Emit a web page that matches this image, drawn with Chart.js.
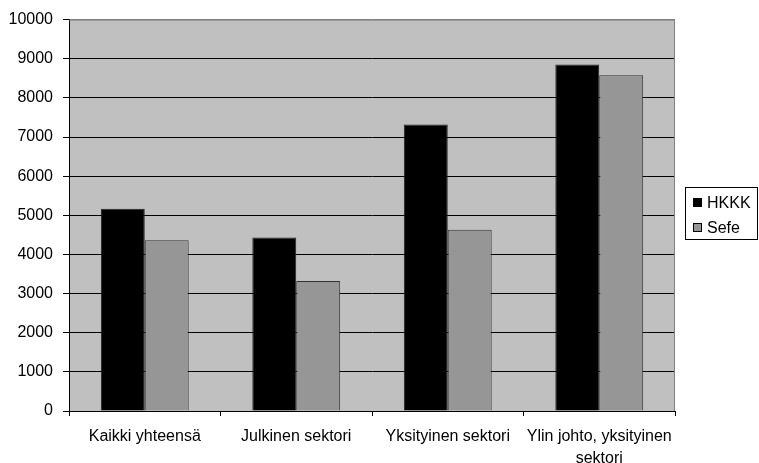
<!DOCTYPE html>
<html>
<head>
<meta charset="utf-8">
<script src="https://cdn.jsdelivr.net/npm/chart.js@4/dist/chart.umd.min.js"></script>
<style>
  html, body { margin: 0; padding: 0; background: #ffffff; }
  #wrap { width: 759px; height: 463px; }
</style>
</head>
<body>
<div id="wrap"><canvas id="c" width="759" height="463"></canvas></div>
<script>
const categories = ['Kaikki yhteensä', 'Julkinen sektori', 'Yksityinen sektori', ['Ylin johto, yksityinen', 'sektori']];
const seriesNames = ['HKKK', 'Sefe'];
const hkkkValues = [5170, 4430, 7320, 8850];
const sefeValues = [4360, 3320, 4630, 8580];
const yTicks = [0, 1000, 2000, 3000, 4000, 5000, 6000, 7000, 8000, 9000, 10000];
const seriesColors = ['#000000', '#969696'];

const FONT = { family: "'Liberation Sans', Arial, sans-serif", size: 16 };

const plotBg = {
  id: 'plotBg',
  beforeDraw(chart) {
    const a = chart.chartArea, ctx = chart.ctx;
    ctx.save();
    ctx.fillStyle = '#c0c0c0';
    ctx.fillRect(a.left, a.top, a.right - a.left, a.bottom - a.top);
    ctx.restore();
  },
  afterDatasetsDraw(chart) {
    const a = chart.chartArea, ctx = chart.ctx;
    ctx.save();
    ctx.strokeStyle = '#808080';
    ctx.lineWidth = 1;
    ctx.beginPath();
    ctx.moveTo(a.left, a.top + 0.5);
    ctx.lineTo(a.right - 0.5, a.top + 0.5);
    ctx.lineTo(a.right - 0.5, a.bottom);
    ctx.stroke();
    ctx.restore();
  }
};

const boxLegend = {
  id: 'boxLegend',
  afterDraw(chart) {
    const ctx = chart.ctx;
    ctx.save();
    ctx.strokeStyle = '#000';
    ctx.lineWidth = 1;
    ctx.strokeRect(685.5, 187.5, 72, 52);
    ctx.font = FONT.size + 'px ' + FONT.family;
    ctx.textBaseline = 'middle';
    ctx.textAlign = 'left';
    chart.data.datasets.forEach((ds, i) => {
      const cy = 203 + i * 25;
      ctx.fillStyle = ds.backgroundColor;
      ctx.fillRect(693, cy - 5, 9, 9);
      ctx.strokeStyle = '#000';
      ctx.strokeRect(693.5, cy - 4.5, 8, 8);
      ctx.fillStyle = '#000';
      ctx.fillText(ds.label, 707, cy + 1);
    });
    ctx.restore();
  }
};

new Chart(document.getElementById('c'), {
  type: 'bar',
  data: {
    labels: categories,
    datasets: [
      { label: seriesNames[0], data: hkkkValues, backgroundColor: seriesColors[0], borderColor: '#222', borderWidth: 1 },
      { label: seriesNames[1], data: sefeValues, backgroundColor: seriesColors[1], borderColor: '#333', borderWidth: 1 }
    ]
  },
  options: {
    responsive: false,
    animation: false,
    devicePixelRatio: 1,
    layout: { padding: { left: 0, top: 16, right: 84, bottom: 0 } },
    datasets: { bar: { categoryPercentage: 0.58, barPercentage: 1.0 } },
    plugins: {
      legend: { display: false },
      tooltip: { enabled: false }
    },
    scales: {
      x: {
        afterFit(s) { s.height = 52; },
        grid: { drawOnChartArea: false, drawTicks: true, tickLength: 5, tickColor: '#000', offset: true },
        border: { color: '#000', width: 1 },
        ticks: { color: '#000', font: { ...FONT, lineHeight: 1.35 }, padding: 10, maxRotation: 0, autoSkip: false }
      },
      y: {
        min: 0, max: 10000,
        afterFit(s) { s.width = 69; },
        afterBuildTicks(s) { s.ticks = yTicks.map(v => ({ value: v })); },
        grid: {
          color: ctx => (ctx.tick && ctx.tick.value === 10000) ? '#808080' : '#000',
          tickColor: '#000',
          tickLength: 6,
          drawTicks: true
        },
        border: { color: '#000', width: 1 },
        ticks: { color: '#000', font: FONT, padding: 10, callback: v => String(v) }
      }
    }
  },
  plugins: [plotBg, boxLegend]
});
</script>
</body>
</html>
